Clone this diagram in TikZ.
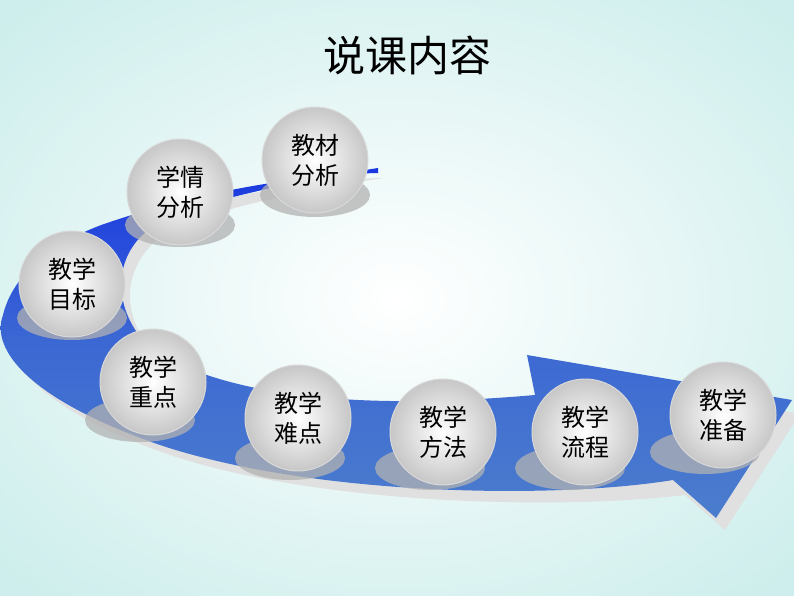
\documentclass[tikz,border=0pt]{standalone}
\usepackage{fontspec}
\newfontfamily\cjk{Noto Sans CJK SC}
\begin{document}
\begin{tikzpicture}[x=1pt,y=-1pt,
  ball/.style={circle,minimum size=106pt,inner sep=0pt,draw=black!15,line width=1pt,
    inner color=white,outer color=black!22,font=\cjk\fontsize{24}{30}\selectfont,align=center},
  shad/.style={fill=black!30,opacity=0.75}]
\definecolor{bgc}{RGB}{205,238,236}
\definecolor{bd}{RGB}{25,55,225}
\definecolor{bl}{RGB}{75,125,205}
\useasboundingbox (0,0) rectangle (794,596);
\shade[inner color=white,outer color=bgc] (-150,-100) rectangle (944,696);
% arrow shadow
\fill[black!12] (383,178) .. controls (270,195) and (180,220) .. (160,237)
  .. controls (120,270) and (120,320) .. (160,360)
  .. controls (260,420) and (420,415) .. (540,405)
  -- (538,367) -- (800,414) -- (725,530) -- (685,495)
  .. controls (560,510) and (320,505) .. (170,455)
  .. controls (40,410) and (0,360) .. (10,320)
  .. controls (25,270) and (80,240) .. (120,230)
  .. controls (200,200) and (300,180) .. cycle;
% arrow
\shade[top color=bd,bottom color=bl,middle color=bl!70!bd] (378,168) .. controls (270,185) and (170,210) .. (152,227)
  .. controls (112,255) and (110,310) .. (152,350)
  .. controls (250,410) and (420,405) .. (535,395)
  -- (527,355) -- (792,400) -- (716,518) -- (673,480)
  .. controls (550,500) and (310,495) .. (160,445)
  .. controls (30,400) and (-10,350) .. (3,315)
  .. controls (15,265) and (70,235) .. (110,222)
  .. controls (190,195) and (290,175) .. (378,173) -- cycle;
% shadows
\foreach \x/\y in {315/195,180/225,72/318,140/420,290/458,430/468,570/468,705/452}
  \fill[shad] (\x,\y) ellipse (55 and 22);
\node[font=\cjk\fontsize{42}{44}\selectfont] (title) at (407,55) {说课内容};
\node[ball] (a) at (315,160) {教材\\分析};
\node[ball] (b) at (180,192) {学情\\分析};
\node[ball] (c) at (72,284) {教学\\目标};
\node[ball] (d) at (153,382) {教学\\重点};
\node[ball] (e) at (298,418) {教学\\难点};
\node[ball] (f) at (443,432) {教学\\方法};
\node[ball] (g) at (585,432) {教学\\流程};
\node[ball] (h) at (723,415) {教学\\准备};
\end{tikzpicture}
\end{document}
